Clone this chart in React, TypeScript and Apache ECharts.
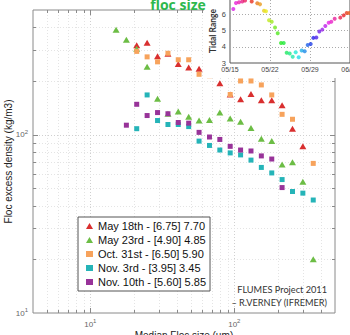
import React, { useEffect, useRef } from 'react';
import * as echarts from 'echarts';

// ---- Main chart data (median floc size µm -> floc excess density kg/m3) ----
const seriesNames = [
  'May 18th - [6.75] 7.70',
  'May 23rd - [4.90] 4.85',
  'Oct. 31st - [6.50] 5.90',
  'Nov. 3rd - [3.95] 3.45',
  'Nov. 10th - [5.60] 5.85',
];
const may18Size = [21.0, 24.8, 29.3, 34.6, 40.8, 48.2, 56.9, 67.2, 79.3, 93.6, 110.5, 130.5, 154, 181.9, 214.6, 253.4, 299.1];
const may18Density = [317, 328, 275, 284, 249, 238, 234, 216, 194, 168, 158, 169, 156, 156, 146, 108, 86];
const may23Size = [15.1, 17.8, 21.0, 24.8, 29.3, 34.6, 40.8, 48.2, 56.9, 67.2, 79.3, 93.6, 110.5, 130.5, 154, 181.9, 214.6, 253.4, 299.1, 353.1];
const may23Density = [388, 341, 303, 240, 159, 131, 135, 126, 120, 121, 133, 123, 118, 109, 95, 92, 68, 70, 54.5, 20];
const oct31Size = [21.0, 24.8, 29.3, 34.6, 40.8, 48.2, 56.9, 67.2, 79.3, 93.6, 110.5, 130.5, 154, 181.9, 214.6, 253.4, 353.1];
const oct31Density = [293, 273, 256, 286, 263, 263, 218, 214, 221, 168, 200, 200, 190, 167, 130, 122, 69];
const nov3Size = [21.0, 24.8, 29.3, 34.6, 40.8, 48.2, 56.9, 67.2, 79.3, 93.6, 110.5, 130.5, 154, 181.9, 214.6, 253.4, 299.1, 353.1];
const nov3Density = [108, 167, 120, 114, 114, 111, 92, 87, 82, 79, 77, 72, 65.5, 61, 56, 48, 47, 43];
const nov10Size = [17.8, 21.0, 24.8, 29.3, 34.6, 40.8, 48.2, 56.9, 67.2, 79.3, 93.6, 110.5, 130.5, 154, 181.9, 214.6];
const nov10Density = [113, 148, 128, 133, 131, 117, 116, 103, 97, 94, 86, 82, 81, 76, 73, 50.5];

const xMinorTicks = [5, 6, 7, 8, 9, 10, 20, 30, 40, 50, 60, 70, 80, 90, 100, 200, 300, 400];
const yMinorTicks = [20, 30, 40, 50, 60, 70, 80, 90, 100, 200, 300, 400];

// ---- Inset: tidal range (days after 05/15) ----
const tideDay = [0.58, 1.05, 1.58, 2.15, 2.63, 3.15, 3.8, 4.78, 5.25, 5.95, 6.3, 6.83, 7.3, 7.88, 8.35, 8.93, 9.4, 9.92, 10.45, 10.97, 11.5, 12.02, 12.55, 13.07, 13.6, 14.12, 14.58, 15.1, 15.63, 16.15, 16.68, 17.27, 17.73, 18.32, 19.3, 19.9, 20.42, 20.88];
const tideRange = [6.33, 6.7, 6.75, 6.8, 6.85, 7.05, 6.8, 6.69, 6.62, 6.23, 6.2, 5.64, 5.54, 5.19, 4.83, 4.23, 4.23, 3.63, 3.58, 3.39, 3.66, 3.36, 3.77, 3.72, 4.11, 4.17, 4.55, 4.58, 4.94, 5.06, 5.29, 5.48, 5.54, 5.73, 5.8, 5.94, 6.08, 6.08];
const tideDateLabels = ['05/15', '05/22', '05/29', '06/05'];

const colors = ['#d92f2f', '#6cbd45', '#f7a35c', '#25b4b8', '#983399'];
const symbols = ['triangle', 'triangle', 'rect', 'rect', 'rect'];

const SANS = "'Liberation Sans', Arial, Helvetica, sans-serif";
const NARROW = "Lato, 'Liberation Sans', sans-serif";

function dayColor(d: number) {
  const h = (((282 + 21.9 * d) % 360) + 360) % 360;
  return `hsl(${h.toFixed(0)}, 82%, 52%)`;
}

function powLabel(v: number) {
  const l = Math.log10(v);
  const e = Math.round(l);
  if (Math.abs(l - e) > 1e-6) return '';
  return `{b|10}{s|${e}}`;
}

const richPow = {
  b: { fontSize: 8, color: '#666', fontFamily: SANS },
  s: { fontSize: 6, color: '#666', fontFamily: SANS, padding: [0, 0, 6, 0] },
};

export default function App() {
  const ref = useRef<HTMLDivElement>(null);
  useEffect(() => {
    if (!ref.current) return;
    const chart = echarts.init(ref.current, null, { renderer: 'svg' });
    const pairs = [
      [may18Size, may18Density],
      [may23Size, may23Density],
      [oct31Size, oct31Density],
      [nov3Size, nov3Density],
      [nov10Size, nov10Density],
    ];
    const scatterSeries = pairs.map(([xs, ys], i) => ({
      type: 'scatter',
      name: seriesNames[i],
      xAxisIndex: 0,
      yAxisIndex: 0,
      symbol: symbols[i],
      symbolSize: symbols[i] === 'triangle' ? [7, 6] : 5,
      itemStyle: { color: colors[i], opacity: 1 },
      data: xs.map((x, k) => [x, ys[k]]),
      z: 3,
      silent: true,
    }));

    const lineGray = '#8a8a8a';
    const option: any = {
      animation: false,
      textStyle: { fontFamily: SANS },
      grid: [
        { left: 33, right: 15, top: 10, bottom: 22, outerBoundsMode: 'none', containLabel: false, show: true, borderColor: lineGray, borderWidth: 1, z: 0 },
        { left: 230, right: 0, top: -18, height: 81, outerBoundsMode: 'none', containLabel: false, show: true, borderColor: '#555', borderWidth: 1, backgroundColor: '#fff', z: 10 },
      ],
      legend: {
        orient: 'vertical',
        left: 78,
        top: 217,
        padding: [2, 4, 2, 8],
        itemGap: 0,
        itemWidth: 7,
        itemHeight: 6,
        backgroundColor: '#fff',
        borderColor: '#555',
        borderWidth: 1,
        z: 20,
        selectedMode: false,
        textStyle: { fontSize: 11, color: '#111', fontFamily: SANS, lineHeight: 14 },
        data: seriesNames.map((n, i) => ({ name: n, icon: symbols[i] === 'triangle' ? 'triangle' : 'rect' })),
      },
      xAxis: [
        {
          type: 'log', logBase: 10, min: 4, max: 500, gridIndex: 0,
          name: 'Median Floc size (µm)', nameLocation: 'middle', nameGap: 17, nameMoveOverlap: false,
          nameTextStyle: { fontSize: 10, color: '#222', fontFamily: SANS },
          axisLine: { show: false },
          axisTick: { show: false },
          axisLabel: { formatter: powLabel, rich: richPow, margin: 5, showMinLabel: false, showMaxLabel: false },
          splitLine: { show: false },
        },
        {
          type: 'value', min: 0, max: 21, interval: 7, gridIndex: 1, z: 10,
          axisLine: { show: false },
          axisTick: { show: false },
          axisLabel: { formatter: (v: number) => tideDateLabels[Math.round(v / 7)] || '', fontSize: 7, color: '#444', margin: 3, fontFamily: SANS },
          splitLine: { show: true, lineStyle: { color: '#aaa', type: [1, 2] } },
        },
      ],
      yAxis: [
        {
          type: 'log', logBase: 10, min: 10, max: 500, gridIndex: 0,
          name: 'Floc excess density (kg/m3)', nameLocation: 'middle', nameGap: 20, nameMoveOverlap: false,
          nameTextStyle: { fontSize: 10, color: '#222', fontFamily: SANS },
          axisLine: { show: false },
          axisTick: { show: false },
          axisLabel: { formatter: powLabel, rich: richPow, margin: 5, showMaxLabel: false },
          splitLine: { show: false },
        },
        {
          type: 'value', min: 3, max: 8, interval: 1, gridIndex: 1, z: 10,
          axisLine: { show: false },
          axisTick: { show: false },
          axisLabel: { formatter: (v: number) => (v <= 6 ? String(v) : ''), fontSize: 7.5, color: '#444', margin: 4, fontFamily: SANS },
          splitLine: { show: true, lineStyle: { color: '#aaa', type: [1, 2] } },
        },
      ],
      graphic: [
        { type: 'rect', shape: { x: 204, y: 0, width: 146, height: 78 }, style: { fill: '#fff' }, z: 5, silent: true },
        {
          type: 'text', x: 213, y: 31, rotation: Math.PI / 2, z: 20,
          style: { text: 'Tidal Range', align: 'center', verticalAlign: 'middle', fontFamily: NARROW, fontWeight: 'bold', fontSize: 8.5, fill: '#333' },
        },
        {
          type: 'text', x: 178, y: -3, z: 20,
          style: { text: 'floc size', align: 'center', verticalAlign: 'top', fontFamily: "'Open Sans', sans-serif", fontWeight: 'bold', fontSize: 14, fill: '#2db84d' },
        },
        {
          type: 'text', x: 327, y: 289, z: 20,
          style: { text: 'FLUMES Project 2011', align: 'right', verticalAlign: 'middle', fontFamily: NARROW, fontSize: 9.2, fill: '#333' },
        },
        {
          type: 'text', x: 327, y: 302, z: 20,
          style: { text: '– R.VERNEY (IFREMER)', align: 'right', verticalAlign: 'middle', fontFamily: NARROW, fontSize: 9.2, fill: '#333' },
        },
      ],
      series: [
        {
          type: 'custom', xAxisIndex: 0, yAxisIndex: 0, silent: true, z: 1,
          data: xMinorTicks.map((v) => [v, 10]),
          renderItem: (params: any, api: any) => {
            const v = api.value(0);
            const a = api.coord([v, 10]);
            const b = api.coord([v, 500]);
            const x = Math.round(a[0]) + 0.5;
            const major = v === 10 || v === 100;
            const len = major ? 5 : 3;
            return {
              type: 'group',
              children: [
                { type: 'line', shape: { x1: x, y1: a[1], x2: x, y2: b[1] }, style: { stroke: major ? '#d0d0d0' : '#e4e4e4', lineWidth: 1, lineDash: [1, 2] } },
                { type: 'line', shape: { x1: x, y1: a[1], x2: x, y2: a[1] - len }, style: { stroke: lineGray, lineWidth: 1 } },
                { type: 'line', shape: { x1: x, y1: b[1], x2: x, y2: b[1] + len }, style: { stroke: lineGray, lineWidth: 1 } },
              ],
            };
          },
        },
        {
          type: 'custom', xAxisIndex: 0, yAxisIndex: 0, silent: true, z: 1,
          data: yMinorTicks.map((v) => [4, v]),
          renderItem: (params: any, api: any) => {
            const v = api.value(1);
            const a = api.coord([4, v]);
            const b = api.coord([500, v]);
            const y = Math.round(a[1]) + 0.5;
            const major = v === 100;
            const len = major ? 5 : 3;
            return {
              type: 'group',
              children: [
                { type: 'line', shape: { x1: a[0], y1: y, x2: b[0], y2: y }, style: { stroke: major ? '#d0d0d0' : '#e4e4e4', lineWidth: 1, lineDash: [1, 2] } },
                { type: 'line', shape: { x1: a[0], y1: y, x2: a[0] + len, y2: y }, style: { stroke: lineGray, lineWidth: 1 } },
                { type: 'line', shape: { x1: b[0], y1: y, x2: b[0] - len, y2: y }, style: { stroke: lineGray, lineWidth: 1 } },
              ],
            };
          },
        },
        ...scatterSeries,
        {
          type: 'scatter', xAxisIndex: 1, yAxisIndex: 1, symbol: 'circle', symbolSize: 4, z: 12, silent: true,
          data: tideDay.map((d, k) => ({ value: [d, tideRange[k]], itemStyle: { color: dayColor(d) } })),
        },
      ],
    };
    chart.setOption(option);
    return () => chart.dispose();
  }, []);
  return <div ref={ref} style={{ position: 'fixed', left: 0, top: 0, width: 350, height: 335, background: '#fff' }} />;
}
